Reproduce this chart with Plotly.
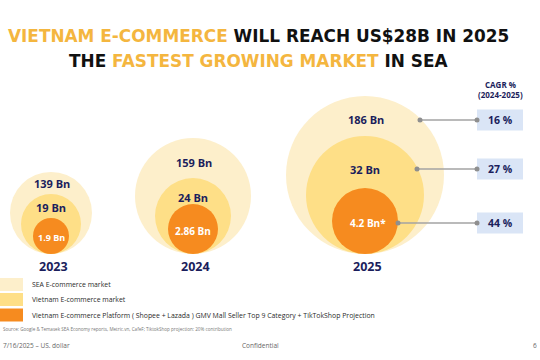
import plotly.graph_objects as go

# ---- data ----
years = ["2023", "2024", "2025"]
sea_market = ["139 Bn", "159 Bn", "186 Bn"]
vn_market = ["19 Bn", "24 Bn", "32 Bn"]
vn_platform = ["1.9 Bn", "2.86 Bn", "4.2 Bn*"]
cagr_labels = ["16 %", "27 %", "44 %"]
legend_labels = [
    "SEA E-commerce market",
    "Vietnam E-commerce market",
    "Vietnam E-commerce Platform ( Shopee + Lazada ) GMV Mall Seller Top 9 Category + TikTokShop Projection",
]

# ---- layout constants (pixel space) ----
W, H = 540, 360
NAVY = "#1b1e5c"
YEL = "#f4b63f"
C_OUT, C_MID, C_IN = "#fdefcb", "#fedf87", "#f68b1f"
centers = [51, 193, 365]
baseline = 254
radii = [(41, 30, 18), (58, 38, 25), (79, 59, 33)]
label_y = [(183, 208, 237), (163, 197, 231), (120, 169, 223)]
year_y = 266

fig = go.Figure()
shapes, ann = [], []

def circle(cx, r, color):
    shapes.append(dict(type="circle", xref="x", yref="y", x0=cx - r, x1=cx + r,
                       y0=baseline - 2 * r, y1=baseline, fillcolor=color,
                       line=dict(width=0), layer="below"))

def text(x, y, s, size, color, bold=True, xanchor="center", family="Open Sans"):
    # paper coordinates so texts near the edges are never hidden
    ann.append(dict(x=x / W, y=1 - y / H, xref="paper", yref="paper", text=s, showarrow=False,
                    xanchor=xanchor, yanchor="middle",
                    font=dict(size=size, color=color, family=family,
                              weight="bold" if bold else "normal")))

for i, yr in enumerate(years):
    cx = centers[i]
    ro, rm, ri = radii[i]
    circle(cx, ro, C_OUT)
    circle(cx, rm, C_MID)
    circle(cx, ri, C_IN)
    ly = label_y[i]
    inner_x = cx + (3 if i == 2 else 0)
    text(cx + 1, ly[0], sea_market[i], 11, NAVY)
    text(cx, ly[1], vn_market[i], 11, NAVY)
    text(inner_x, ly[2], vn_platform[i], 10 if i else 9, "white")
    text(cx + 2, year_y, yr, 12.5, NAVY)

# connectors for 2025 + CAGR boxes
start_x = [420, 417, 398]
box_x0, box_x1 = 477, 523
for k, lab in enumerate(cagr_labels):
    y = label_y[2][k]
    fig.add_trace(go.Scatter(x=[start_x[k], box_x0], y=[y, y], mode="lines+markers",
                             line=dict(color="#a3a3a3", width=1.5),
                             marker=dict(size=5, color="#8f8f8f"),
                             hoverinfo="skip", showlegend=False))
    shapes.append(dict(type="rect", xref="x", yref="y", x0=box_x0, x1=box_x1,
                       y0=y - 10.5, y1=y + 10.5, fillcolor="#dae5f6",
                       line=dict(width=0), layer="below"))
    text((box_x0 + box_x1) / 2, y, lab, 10.5, NAVY)

text(500, 84, "CAGR %", 8, NAVY)
text(500, 95, "(2024-2025)", 8, NAVY)

# title
t1 = (f"<span style='color:{YEL}'>VIETNAM E-COMMERCE</span> "
      f"<span style='color:#111'>WILL REACH US$28B IN 2025</span>")
t2 = (f"<span style='color:#111'>THE </span><span style='color:{YEL}'>FASTEST GROWING MARKET</span>"
      f"<span style='color:#111'> IN SEA</span>")
text(258, 36, t1, 16.9, "#111", family="DejaVu Sans")
text(258, 61, t2, 16.9, "#111", family="DejaVu Sans")

# legend
leg_colors = [C_OUT, C_MID, C_IN]
leg_y = [284.5, 299.5, 315]
for c, lab, y in zip(leg_colors, legend_labels, leg_y):
    shapes.append(dict(type="rect", xref="x", yref="y", x0=-1, x1=23,
                       y0=y - 6.5, y1=y + 6.5, fillcolor=c, line=dict(width=0)))
    text(30, y, lab, 6.9, "#2a2a2a", bold=False, xanchor="left")

text(0.5, 329, "Source: Google & Temasek SEA Economy reports, Metric.vn, CafeF; TiktokShop projection: 20% contribution",
     4.6, "#777", bold=False, xanchor="left")
text(0.5, 345, "7/16/2025 – US. dollar", 6.5, "#666", bold=False, xanchor="left")
text(260, 345, "Confidential", 6.5, "#666", bold=False)
text(539, 345, "6", 6.5, "#666", bold=False, xanchor="right")

fig.update_layout(
    width=W, height=H, autosize=False,
    margin=dict(l=0, r=0, t=0, b=0),
    paper_bgcolor="white", plot_bgcolor="white",
    xaxis=dict(range=[0, W], visible=False, fixedrange=True),
    yaxis=dict(range=[H, 0], visible=False, fixedrange=True),
    shapes=shapes, annotations=ann, showlegend=False,
)
fig.write_html("out.html", config={"displayModeBar": False},
               post_script="document.body.style.margin='0';document.body.style.padding='0';")
